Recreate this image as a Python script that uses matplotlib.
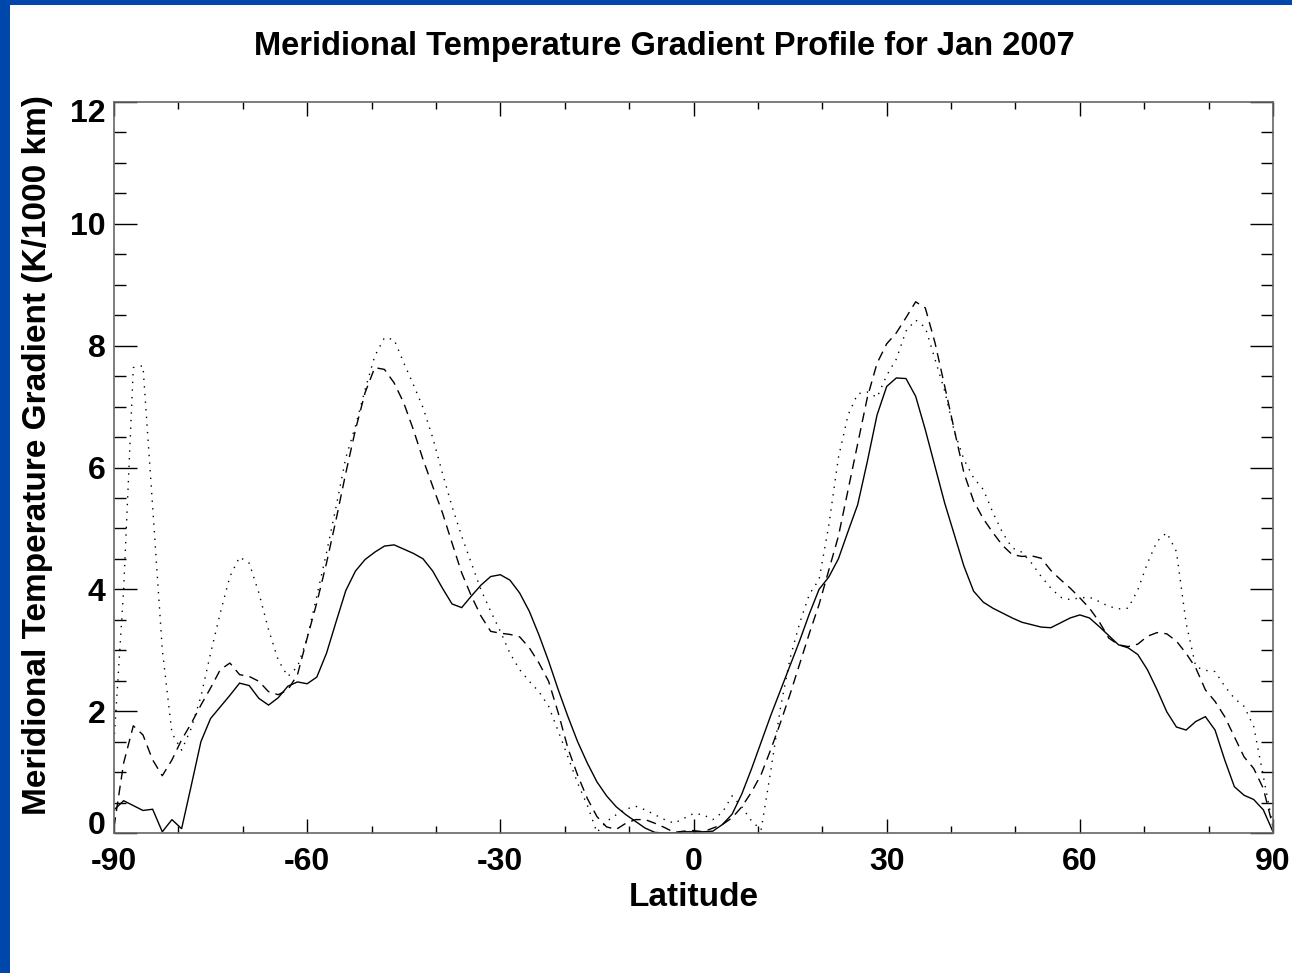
import numpy as np
import matplotlib
matplotlib.use("Agg")
import matplotlib.pyplot as plt
from matplotlib.patches import Rectangle
from matplotlib.ticker import MultipleLocator
from matplotlib.transforms import ScaledTranslation

plt.rcParams['font.family'] = ['Liberation Sans', 'DejaVu Sans']

# Latitude grid (1.5 degree spacing, -90 .. 90)
lat = np.linspace(-90, 90, 121)

solid = [
    0.38, 0.53, 0.45, 0.37, 0.39, 0.02, 0.22, 0.07, 0.78, 1.50,
    1.88, 2.07, 2.26, 2.46, 2.42, 2.21, 2.10, 2.22, 2.41, 2.48,
    2.45, 2.56, 2.95, 3.47, 3.98, 4.30, 4.49, 4.61, 4.71, 4.73,
    4.66, 4.59, 4.50, 4.30, 4.02, 3.76, 3.70, 3.89, 4.07, 4.21,
    4.24, 4.15, 3.94, 3.64, 3.25, 2.82, 2.35, 1.91, 1.50, 1.15,
    0.84, 0.61, 0.43, 0.30, 0.19, 0.08, 0.01, 0.00, 0.00, 0.02,
    0.02, 0.02, 0.03, 0.14, 0.31, 0.64, 1.05, 1.49, 1.93, 2.34,
    2.75, 3.16, 3.60, 4.00, 4.20, 4.50, 4.95, 5.39, 6.10, 6.86,
    7.33, 7.47, 7.46, 7.17, 6.62, 6.02, 5.42, 4.90, 4.38, 3.97,
    3.79, 3.69, 3.61, 3.53, 3.46, 3.42, 3.38, 3.37, 3.45, 3.53,
    3.58, 3.53, 3.39, 3.24, 3.09, 3.04, 2.93, 2.68, 2.35, 1.99,
    1.74, 1.69, 1.83, 1.91, 1.69, 1.20, 0.76, 0.62, 0.55, 0.38,
    0.02,
]

dashed = [
    0.10, 1.15, 1.76, 1.61, 1.20, 0.94, 1.20, 1.53, 1.80, 2.10,
    2.38, 2.68, 2.79, 2.60, 2.57, 2.49, 2.32, 2.27, 2.35, 2.60,
    3.20, 3.78, 4.43, 5.15, 5.91, 6.62, 7.23, 7.64, 7.61, 7.39,
    7.06, 6.62, 6.13, 5.69, 5.26, 4.76, 4.27, 3.89, 3.56, 3.31,
    3.28, 3.26, 3.22, 3.04, 2.79, 2.49, 1.97, 1.39, 0.95, 0.57,
    0.27, 0.10, 0.06, 0.16, 0.22, 0.22, 0.16, 0.09, 0.01, 0.03,
    0.04, 0.02, 0.08, 0.14, 0.25, 0.43, 0.67, 0.96, 1.37, 1.81,
    2.28, 2.78, 3.28, 3.75, 4.31, 4.87, 5.63, 6.39, 7.15, 7.71,
    8.03, 8.21, 8.46, 8.72, 8.62, 8.05, 7.34, 6.62, 5.91, 5.45,
    5.16, 4.93, 4.72, 4.57, 4.54, 4.55, 4.51, 4.31, 4.16, 4.02,
    3.86, 3.69, 3.47, 3.20, 3.09, 3.06, 3.10, 3.23, 3.29, 3.27,
    3.15, 2.95, 2.71, 2.35, 2.16, 1.91, 1.58, 1.25, 1.06, 0.73,
    0.10,
]

dotted = [
    1.50, 4.00, 7.64, 7.67, 5.36, 3.01, 1.64, 1.36, 1.72, 2.24,
    2.95, 3.61, 4.21, 4.53, 4.43, 3.94, 3.34, 2.84, 2.57, 2.73,
    3.20, 3.89, 4.60, 5.36, 6.16, 6.68, 7.28, 7.83, 8.13, 8.10,
    7.72, 7.36, 6.98, 6.49, 5.91, 5.36, 4.87, 4.43, 3.99, 3.64,
    3.31, 2.95, 2.68, 2.49, 2.32, 2.08, 1.67, 1.25, 0.82, 0.46,
    0.01, 0.19, 0.30, 0.39, 0.44, 0.38, 0.30, 0.22, 0.16, 0.24,
    0.32, 0.30, 0.22, 0.34, 0.61, 0.43, 0.20, 0.05, 1.02, 2.05,
    2.87, 3.45, 3.92, 4.16, 5.04, 6.16, 6.86, 7.21, 7.24, 7.15,
    7.51, 7.78, 8.24, 8.42, 8.30, 7.78, 7.26, 6.60, 6.13, 5.83,
    5.64, 5.26, 4.93, 4.68, 4.61, 4.43, 4.21, 4.02, 3.87, 3.83,
    3.86, 3.87, 3.80, 3.72, 3.68, 3.69, 3.99, 4.43, 4.79, 4.93,
    4.62, 3.45, 2.73, 2.67, 2.65, 2.41, 2.21, 2.08, 1.75, 0.93,
    0.10,
]

title = "Meridional Temperature Gradient Profile for Jan 2007"
xlabel = "Latitude"
ylabel = "Meridional Temperature Gradient (K/1000 km)"
xticks = [-90, -60, -30, 0, 30, 60, 90]
yticks = [0, 2, 4, 6, 8, 10, 12]

W, H = 1292, 973
fig = plt.figure(figsize=(W / 100, H / 100), dpi=100)
fig.patch.set_facecolor('white')

# blue frame strips (left and top)
blue = '#0047AB'
fig.add_artist(Rectangle((0, 0), 10 / W, 1, transform=fig.transFigure,
                         facecolor=blue, edgecolor='none', zorder=10))
fig.add_artist(Rectangle((0, 1 - 5 / H), 1, 5 / H, transform=fig.transFigure,
                         facecolor=blue, edgecolor='none', zorder=10))

left, right, bottom, top = 114 / W, 1273 / W, 1 - 833 / H, 1 - 102 / H
ax = fig.add_axes([left, bottom, right - left, top - bottom])

lw = 1.0
ax.plot(lat, solid, color='black', lw=lw, solid_joinstyle='miter')
ax.plot(lat, dashed, color='black', lw=lw, linestyle=(0, (7, 4.5)))
ax.plot(lat, dotted, color='black', lw=lw, linestyle=(0, (1, 4.5)))

ax.set_xlim(-90, 90)
ax.set_ylim(0, 12)
ax.set_xticks(xticks)
ax.set_yticks(yticks)
ax.xaxis.set_minor_locator(MultipleLocator(10))
ax.yaxis.set_minor_locator(MultipleLocator(0.5))

for sp in ax.spines.values():
    sp.set_color('#666666')
    sp.set_linewidth(1.2)

ax.tick_params(axis='x', which='major', direction='in', length=10, width=1,
               top=True, bottom=True, pad=10, labelsize=23, color='black')
ax.tick_params(axis='x', which='minor', direction='in', length=5, width=1,
               top=True, bottom=True, color='black')
ax.tick_params(axis='y', which='major', direction='in', length=16.5, width=1,
               left=True, right=True, pad=6, labelsize=23, color='black')
ax.tick_params(axis='y', which='minor', direction='in', length=8.5, width=1,
               left=True, right=True, color='black')

ax.set_xticklabels([str(t) for t in xticks], fontweight='bold')
ylabs = ax.set_yticklabels([str(t) for t in yticks], fontweight='bold')
# end labels sit inside the axis range, as in the reference
ylabs[0].set_transform(ylabs[0].get_transform() +
                       ScaledTranslation(0, 11 / 100, fig.dpi_scale_trans))
ylabs[-1].set_transform(ylabs[-1].get_transform() +
                        ScaledTranslation(0, -8 / 100, fig.dpi_scale_trans))

fig.text(694 / W, 1 - 898 / H, xlabel, ha='center', va='center',
         fontsize=24, fontweight='bold')
fig.text(38 / W, 1 - 455 / H, ylabel, ha='center', va='center',
         rotation=90, fontsize=24, fontweight='bold')
fig.text(664 / W, 1 - 47 / H, title, ha='center', va='center',
         fontsize=23.5, fontweight='bold')

fig.savefig('out.png', dpi=100, facecolor='white')
